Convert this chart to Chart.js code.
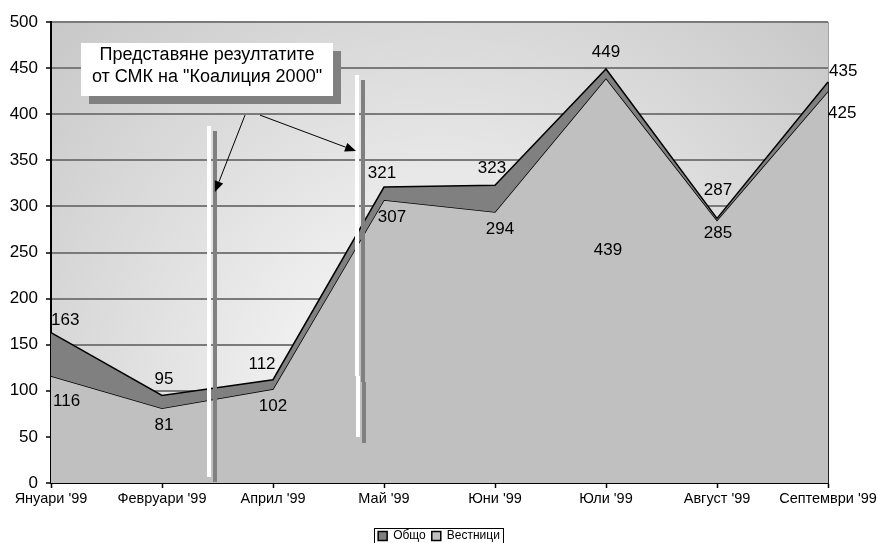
<!DOCTYPE html>
<html>
<head>
<meta charset="utf-8">
<script src="https://cdn.jsdelivr.net/npm/chart.js@4.4.1/dist/chart.umd.min.js"></script>
<style>
  html, body { margin: 0; padding: 0; background: #fff; }
  canvas { display: block; }
</style>
</head>
<body>
<canvas id="chart" width="878" height="543"></canvas>
<script>
// Monthly counts: total publications and those in newspapers
const categories = ["Януари '99", "Февруари '99", "Април '99", "Май '99", "Юни '99", "Юли '99", "Август '99", "Септември '99"];
const totalCounts = [163, 95, 112, 321, 323, 449, 287, 435];
const newspaperCounts = [116, 81, 102, 307, 294, 439, 285, 425];
const yTickValues = [0, 50, 100, 150, 200, 250, 300, 350, 400, 450, 500];
const seriesNames = ['Общо', 'Вестници'];
const noteLines = ['Представяне резултатите', 'от СМК на "Коалиция 2000"'];

// Value-label placement relative to each point: [dx, dy, align]
const totalLabelPos = [[0, -12, 'left'], [2, -16, 'center'], [-11, -15, 'center'], [-2, -14, 'center'],
                       [-3, -17, 'center'], [0, -17, 'center'], [1, -28, 'center'], [1, -11, 'left']];
const paperLabelPos = [[2, 25, 'left'], [2, 17, 'center'], [0, 17, 'center'], [8, 17, 'center'],
                       [5, 17, 'center'], [2, 172, 'center'], [1, 13, 'center'], [0, 22, 'left']];

const FONT = '"Liberation Sans", Arial, sans-serif';

// Soft radial shading behind the plot
const plotBackground = {
  id: 'plotBackground',
  beforeDraw(chart) {
    const { ctx, chartArea: a } = chart;
    const cx = a.left + (a.right - a.left) * 0.5;
    const cy = a.top + (a.bottom - a.top) * 0.82;
    const g = ctx.createRadialGradient(cx, cy, 0, cx, cy, 560);
    g.addColorStop(0, '#ffffff');
    g.addColorStop(1, '#c6c6c6');
    ctx.save();
    ctx.fillStyle = g;
    ctx.fillRect(a.left, a.top, a.right - a.left, a.bottom - a.top);
    ctx.restore();
  }
};

// Centre the legend on the full canvas width and drop it to the bottom edge
const legendPlacement = {
  id: 'legendPlacement',
  afterLayout(chart) {
    const lg = chart.legend;
    if (!lg) return;
    lg.left = 0;
    lg.right = chart.width;
    lg.width = chart.width;
    lg.top += 9;
    lg.bottom += 9;
  }
};

// Callout box, arrows and the two vertical markers (placed in data space)
const callout = {
  id: 'callout',
  afterDatasetsDraw(chart) {
    const { ctx, scales: { x, y }, chartArea: a } = chart;
    const X = v => x.getPixelForValue(v);
    const Y = v => y.getPixelForValue(v);
    ctx.save();

    // right edge of the plot
    const lastY = chart.getDatasetMeta(0).data[totalCounts.length - 1].y;
    ctx.lineWidth = 1;
    ctx.strokeStyle = '#a0a0a0';
    ctx.beginPath(); ctx.moveTo(a.right + 0.5, a.top); ctx.lineTo(a.right + 0.5, lastY); ctx.stroke();
    ctx.strokeStyle = '#222';
    ctx.beginPath(); ctx.moveTo(a.right + 0.5, lastY); ctx.lineTo(a.right + 0.5, a.bottom); ctx.stroke();

    // vertical markers: [xIndex, topValue, bottomValue, colour]
    const markers = [
      [1.423, 387, 6.5, '#ffffff'], [1.477, 382, 1, '#808080'],
      [2.757, 442.5, 116, '#ffffff'], [2.766, 116, 50, '#ffffff'],
      [2.811, 437, 109.5, '#808080'], [2.82, 109.5, 43.4, '#808080']
    ];
    markers.forEach(([xi, t, b, c]) => {
      ctx.fillStyle = c;
      ctx.fillRect(Math.round(X(xi)) - 2, Math.round(Y(t)), 4, Math.round(Y(b) - Y(t)));
    });

    // arrows: [fromIndex, fromValue, toIndex, toValue]
    const arrows = [[1.748, 399, 1.477, 315.6], [1.883, 399, 2.748, 360]];
    ctx.strokeStyle = '#000';
    ctx.fillStyle = '#000';
    ctx.lineWidth = 1;
    arrows.forEach(([x0, y0, x1, y1]) => {
      const ax = X(x0), ay = Y(y0), bx = X(x1), by = Y(y1);
      const ang = Math.atan2(by - ay, bx - ax);
      const len = 11, half = 4.5;
      const baseX = bx - len * Math.cos(ang), baseY = by - len * Math.sin(ang);
      ctx.beginPath(); ctx.moveTo(ax, ay); ctx.lineTo(baseX, baseY); ctx.stroke();
      ctx.beginPath();
      ctx.moveTo(bx, by);
      ctx.lineTo(baseX + half * Math.sin(ang), baseY - half * Math.cos(ang));
      ctx.lineTo(baseX - half * Math.sin(ang), baseY + half * Math.cos(ang));
      ctx.closePath(); ctx.fill();
    });

    // text box with drop shadow
    const bx0 = Math.round(X(0.27)), bx1 = Math.round(X(2.54));
    const by0 = Math.round(Y(477)), by1 = Math.round(Y(420));
    ctx.fillStyle = '#808080';
    ctx.fillRect(bx0 + 8, by0 + 8, bx1 - bx0, by1 - by0);
    ctx.fillStyle = '#ffffff';
    ctx.fillRect(bx0, by0, bx1 - bx0, by1 - by0);
    ctx.fillStyle = '#000';
    ctx.font = '18px ' + FONT;
    ctx.textAlign = 'center';
    ctx.textBaseline = 'middle';
    const cx = (bx0 + bx1) / 2;
    ctx.fillText(noteLines[0], cx, by0 + 12.5);
    ctx.fillText(noteLines[1], cx, by0 + 34.5);
    ctx.restore();
  }
};

// Value labels next to every point of both series
const valueLabels = {
  id: 'valueLabels',
  afterDatasetsDraw(chart) {
    const { ctx } = chart;
    ctx.save();
    ctx.font = '17px ' + FONT;
    ctx.fillStyle = '#000';
    ctx.textBaseline = 'middle';
    [[0, totalLabelPos], [1, paperLabelPos]].forEach(([di, pos]) => {
      const meta = chart.getDatasetMeta(di);
      const values = chart.data.datasets[di].data;
      meta.data.forEach((pt, i) => {
        const [dx, dy, align] = pos[i];
        ctx.textAlign = align;
        ctx.fillText(String(values[i]), pt.x + dx, pt.y + dy);
      });
    });
    ctx.restore();
  }
};

// Frame around the legend
const legendFrame = {
  id: 'legendFrame',
  afterDraw(chart) {
    const boxes = chart.legend && chart.legend.legendHitBoxes;
    if (!boxes || !boxes.length) return;
    const l = Math.min(...boxes.map(b => b.left)) - 4;
    const r = Math.max(...boxes.map(b => b.left + b.width)) + 3;
    const t = Math.min(...boxes.map(b => b.top)) - 2;
    const btm = Math.max(...boxes.map(b => b.top + b.height)) + 1;
    const { ctx } = chart;
    ctx.save();
    ctx.strokeStyle = '#000';
    ctx.lineWidth = 1;
    ctx.strokeRect(Math.round(l) + 0.5, Math.round(t) + 0.5, Math.round(r - l), Math.round(btm - t));
    ctx.restore();
  }
};

new Chart(document.getElementById('chart'), {
  type: 'line',
  data: {
    labels: categories,
    datasets: [
      {
        label: seriesNames[0],
        data: totalCounts,
        backgroundColor: '#808080',
        borderColor: '#000',
        borderWidth: 1.5,
        fill: '+1',
        pointRadius: 0,
        tension: 0
      },
      {
        label: seriesNames[1],
        data: newspaperCounts,
        backgroundColor: '#c0c0c0',
        borderColor: '#000',
        borderWidth: 1.5,
        fill: 'origin',
        pointRadius: 0,
        tension: 0
      }
    ]
  },
  options: {
    responsive: false,
    animation: false,
    devicePixelRatio: 1,
    layout: { padding: { top: 22, right: 50, left: 0, bottom: 0 } },
    plugins: {
      legend: {
        position: 'bottom',
        labels: {
          boxWidth: 9,
          boxHeight: 9,
          padding: 6,
          color: '#000',
          font: { family: FONT, size: 12 }
        }
      },
      tooltip: { enabled: false }
    },
    scales: {
      x: {
        type: 'category',
        offset: false,
        grid: { drawOnChartArea: false, tickLength: 5, tickColor: '#000', tickWidth: 1.5 },
        border: { color: '#000', width: 2 },
        ticks: { color: '#000', font: { family: FONT, size: 14.5 }, maxRotation: 0, autoSkip: false, padding: 2 },
        afterFit(s) {
          s.height = 543 - 483 - s.chart.legend.height;
          s.paddingLeft = 0;
          s.paddingRight = 0;
        }
      },
      y: {
        min: 0,
        max: 500,
        afterBuildTicks(s) { s.ticks = yTickValues.map(v => ({ value: v })); },
        grid: { color: '#7a7a7a', lineWidth: 2, tickLength: 5, tickColor: '#000', tickWidth: 1.5 },
        border: { color: '#000', width: 2 },
        ticks: { color: '#000', font: { family: FONT, size: 17 }, padding: 8 },
        afterFit(s) { s.width = 51; }
      }
    }
  },
  plugins: [plotBackground, legendPlacement, callout, valueLabels, legendFrame]
});
</script>
</body>
</html>
